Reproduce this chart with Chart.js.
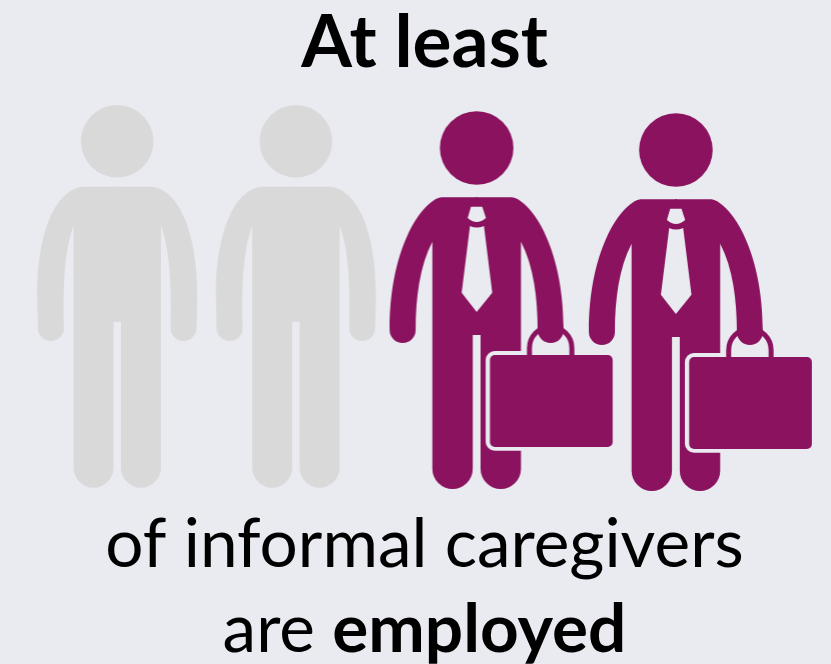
<!DOCTYPE html>
<html>
<head>
<meta charset="utf-8">
<style>
  html, body { margin: 0; padding: 0; background: #E9EBF0; }
  canvas { display: block; }
</style>
<script src="https://cdn.jsdelivr.net/npm/chart.js@4/dist/chart.umd.min.js"></script>
</head>
<body>
<canvas id="chart" width="831" height="664"></canvas>
<script>
// Two of four people in the pictogram are employed.
const headline = "At least";
const caption = "of informal caregivers";
const closingPlain = "are ";
const closingBold = "employed";
const seriesNames = ["Not employed", "Employed"];
const notEmployedPeople = [1, 2];
const employedPeople = [3, 4];
const rowLevel = 1;

const PAGE_BG = "#E9EBF0";
const GREY = "#D9D9D9";
const PURPLE = "#8A125E";
const FONT = "Lato, 'Open Sans', sans-serif";

// Small per-figure shifts from the person's scale position to the head centre.
const greyShift = [[0.3, -158.7], [-7.3, -158.7]];
const purpleShift = [[-12.9, -152], [0, -150]];

function plainPerson(c) {
  c.fillStyle = GREY;
  c.beginPath(); c.arc(0, 0, 36.3, 0, Math.PI * 2); c.fill();
  for (const side of [1, -1]) {
    c.save();
    c.scale(side, 1);
    c.beginPath();
    c.moveTo(-1, 45.4);
    c.lineTo(32, 45.4);
    c.bezierCurveTo(60, 45.4, 80, 88, 80, 153.7);
    c.lineTo(79.3, 186.7);
    c.arc(66.3, 186.7, 13, 0, Math.PI, false);
    c.bezierCurveTo(54.5, 150, 53, 108, 43.7, 84.7);
    c.lineTo(43.7, 326.4);
    c.arc(23.7, 326.4, 20, 0, Math.PI, false);
    c.lineTo(3.7, 180.4);
    c.lineTo(-1, 180.4);
    c.closePath();
    c.fill();
    c.restore();
  }
}

function roundedBox(c, x, y, w, h, r, fill) {
  c.fillStyle = fill;
  c.beginPath();
  c.roundRect(x, y, w, h, r);
  c.fill();
}

function businessPerson(c) {
  c.fillStyle = PURPLE;
  c.beginPath(); c.arc(0, 0, 36.8, 0, Math.PI * 2); c.fill();
  for (const side of [1, -1]) {
    c.save();
    c.scale(side, 1);
    c.beginPath();
    c.moveTo(-1, 49.3);
    c.lineTo(35, 49.3);
    c.bezierCurveTo(52, 51, 87, 95, 87, 182);
    c.arc(74, 182, 13, 0, Math.PI, false);
    c.bezierCurveTo(61, 150, 57, 118, 44.3, 93.7);
    c.lineTo(44.3, 320.8);
    c.arc(24.1, 320.8, 20.2, 0, Math.PI, false);
    c.lineTo(3.9, 187);
    c.lineTo(-1, 187);
    c.closePath();
    c.fill();
    c.restore();
  }
  // tie knot and blade
  c.fillStyle = PAGE_BG;
  c.beginPath();
  c.moveTo(-5.7, 58.7); c.lineTo(5.6, 58.7); c.lineTo(9.3, 70);
  c.quadraticCurveTo(0, 78, -9, 70);
  c.closePath(); c.fill();
  c.beginPath();
  c.moveTo(-6.7, 78); c.quadraticCurveTo(0, 81, 7.3, 78);
  c.lineTo(15.6, 144.7); c.lineTo(0, 164); c.lineTo(-15, 144.7);
  c.closePath(); c.fill();
  // briefcase: halo over the leg, handle, then the case itself
  roundedBox(c, 9, 203, 131, 99.7, 9, PAGE_BG);
  c.strokeStyle = PURPLE;
  c.lineWidth = 5;
  c.beginPath();
  c.moveTo(52.8, 208);
  c.lineTo(52.8, 200);
  c.arc(74, 200, 21.2, Math.PI, 0, false);
  c.lineTo(95.2, 208);
  c.stroke();
  roundedBox(c, 13.3, 207, 122.7, 92, 5, PURPLE);
}

function makeSprite(drawFigure, shift) {
  const sprite = document.createElement("canvas");
  sprite.width = 700;
  sprite.height = 900;
  const c = sprite.getContext("2d");
  c.translate(350 + shift[0], 450 + shift[1]);
  drawFigure(c);
  return sprite;
}

const greySprites = greyShift.map(s => makeSprite(plainPerson, s));
const purpleSprites = purpleShift.map(s => makeSprite(businessPerson, s));

// Caption lines under the figures, the last one mixing regular and bold.
const captionPlugin = {
  id: "captionLines",
  afterDraw(chart) {
    const c = chart.ctx;
    const centre = 424.5;
    const size = 67.5;
    c.save();
    c.fillStyle = "#000";
    c.textBaseline = "alphabetic";
    c.textAlign = "left";
    c.font = "400 " + size + "px " + FONT;
    c.fillText(caption, centre - c.measureText(caption).width / 2, 566.5);
    const plainWidth = c.measureText(closingPlain).width;
    c.font = "700 " + size + "px " + FONT;
    const boldWidth = c.measureText(closingBold).width;
    const start = centre - (plainWidth + boldWidth) / 2;
    c.fillText(closingBold, start + plainWidth, 651.5);
    c.font = "400 " + size + "px " + FONT;
    c.fillText(closingPlain, start, 651.5);
    c.restore();
  }
};

new Chart(document.getElementById("chart"), {
  type: "scatter",
  data: {
    datasets: [
      {
        label: seriesNames[0],
        data: notEmployedPeople.map(p => ({ x: p, y: rowLevel })),
        pointStyle: ctx => greySprites[ctx.dataIndex],
        pointRadius: 1,
        clip: false
      },
      {
        label: seriesNames[1],
        data: employedPeople.map(p => ({ x: p, y: rowLevel })),
        pointStyle: ctx => purpleSprites[ctx.dataIndex],
        pointRadius: 1,
        clip: false
      }
    ]
  },
  options: {
    responsive: false,
    animation: false,
    events: [],
    layout: { autoPadding: false, padding: { left: 18, right: 0, top: 0, bottom: 164 } },
    scales: {
      x: { type: "linear", display: false, min: 0.469, max: 4.833 },
      y: { type: "linear", display: false, min: 0, max: 2 }
    },
    plugins: {
      legend: { display: false },
      tooltip: { enabled: false },
      title: {
        display: true,
        text: headline,
        fullSize: false,
        color: "#000",
        font: { family: FONT, size: 73, weight: "700", lineHeight: 1.2 },
        padding: { top: 0, bottom: 12.4 }
      }
    }
  },
  plugins: [captionPlugin]
});
</script>
</body>
</html>
